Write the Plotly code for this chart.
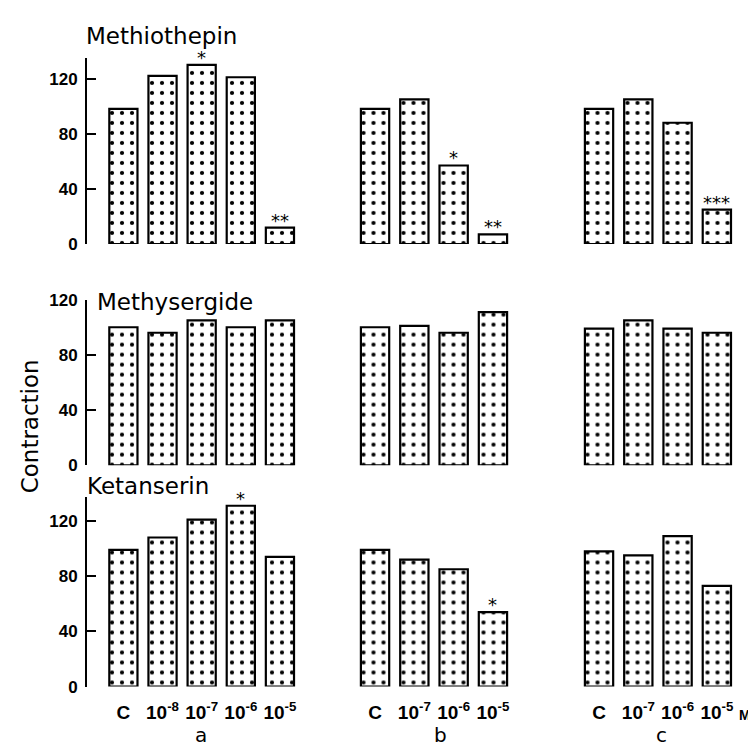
import plotly.graph_objects as go

# ---------------- data ----------------
drugs = ["Methiothepin", "Methysergide", "Ketanserin"]
groups = ["a", "b", "c"]
cats_a = ["C", "10<sup>-8</sup>", "10<sup>-7</sup>", "10<sup>-6</sup>", "10<sup>-5</sup>"]
cats_bc = ["C", "10<sup>-7</sup>", "10<sup>-6</sup>", "10<sup>-5</sup>"]

methiothepin_a = [98, 122, 130, 121, 12]
methiothepin_b = [98, 105, 57, 7]
methiothepin_c = [98, 105, 88, 25]
methysergide_a = [100, 96, 105, 100, 105]
methysergide_b = [100, 101, 96, 111]
methysergide_c = [99, 105, 99, 96]
ketanserin_a = [99, 108, 121, 131, 94]
ketanserin_b = [99, 92, 85, 54]
ketanserin_c = [98, 95, 109, 73]

# significance marks (same order as values, "" = none)
sig_methiothepin_a = ["", "", "*", "", "**"]
sig_methiothepin_b = ["", "", "*", "**"]
sig_methiothepin_c = ["", "", "", "***"]
sig_methysergide_a = ["", "", "", "", ""]
sig_methysergide_b = ["", "", "", ""]
sig_methysergide_c = ["", "", "", ""]
sig_ketanserin_a = ["", "", "", "*", ""]
sig_ketanserin_b = ["", "", "", "*"]
sig_ketanserin_c = ["", "", "", ""]

yticks = [0, 40, 80, 120]

values = [
    [methiothepin_a, methiothepin_b, methiothepin_c],
    [methysergide_a, methysergide_b, methysergide_c],
    [ketanserin_a, ketanserin_b, ketanserin_c],
]
sigs = [
    [sig_methiothepin_a, sig_methiothepin_b, sig_methiothepin_c],
    [sig_methysergide_a, sig_methysergide_b, sig_methysergide_c],
    [sig_ketanserin_a, sig_ketanserin_b, sig_ketanserin_c],
]
cats = [cats_a, cats_bc, cats_bc]

# ---------------- layout geometry (pixels) ----------------
W, H = 756, 748
col_px = [(79, 291.5), (330.5, 504.6), (554.5, 728.5)]
col_range = [(-0.93, 4.5), (-0.93, 3.5), (-0.93, 3.5)]
row_px = [(42, 233), (290, 460), (493, 687)]
row_range = [(0, 135), (0, 120), (0, 137)]
title_pos = [(76, 20), (87, 292), (77, 481)]

fig = go.Figure()
layout = dict(
    width=W, height=H,
    margin=dict(l=0, r=0, t=0, b=0),
    paper_bgcolor="white", plot_bgcolor="white",
    showlegend=False,
    font=dict(family="Liberation Sans", color="black"),
)
annotations = []

for r in range(3):
    for c in range(3):
        n = r * 3 + c + 1
        xa = "x" if n == 1 else f"x{n}"
        ya = "y" if n == 1 else f"y{n}"
        xs = list(range(len(cats[c])))
        fig.add_trace(go.Bar(
            x=xs, y=values[r][c], xaxis=xa, yaxis=ya, width=0.72,
            marker=dict(
                color="white",
                line=dict(color="black", width=2.2),
                pattern=dict(shape=".", fgcolor="black", bgcolor="white",
                             fgopacity=1, size=10, solidity=0.14),
            ),
        ))
        for i, s in enumerate(sigs[r][c]):
            if s:
                annotations.append(dict(
                    x=xs[i], y=values[r][c][i], xref=xa, yref=ya,
                    text=s, showarrow=False, yanchor="bottom", yshift=-5,
                    font=dict(size=18, family="DejaVu Sans", color="black"),
                ))
        x0, x1 = col_px[c]
        y0, y1 = row_px[r]
        xkey = "xaxis" if n == 1 else f"xaxis{n}"
        ykey = "yaxis" if n == 1 else f"yaxis{n}"
        bottom = (r == 2)
        layout[xkey] = dict(
            domain=[x0 / W, x1 / W], range=list(col_range[c]), anchor=ya,
            showgrid=False, zeroline=False, showline=False, ticks="",
            tickmode="array", tickvals=xs, ticktext=cats[c],
            showticklabels=bottom,
            tickfont=dict(size=19, family="Liberation Sans", color="black", weight="bold"),
            ticklabelstandoff=12, fixedrange=True,
        )
        ya_dict = dict(
            domain=[1 - y1 / H, 1 - y0 / H], range=list(row_range[r]), anchor=xa,
            showgrid=False, zeroline=False, fixedrange=True,
        )
        if c == 0:
            ya_dict.update(
                showline=True, linecolor="black", linewidth=2,
                ticks="inside", ticklen=9, tickwidth=2, tickcolor="black",
                tickvals=yticks, ticktext=[str(v) for v in yticks],
                tickfont=dict(size=17, family="Liberation Sans", color="black", weight="bold"),
                ticklabelstandoff=4,
            )
        else:
            ya_dict.update(visible=False)
        layout[ykey] = ya_dict

for r in range(3):
    tx, ty = title_pos[r]
    annotations.append(dict(
        x=tx / W, y=1 - ty / H, xref="paper", yref="paper",
        text=drugs[r], showarrow=False, xanchor="left", yanchor="middle",
        font=dict(size=23, family="DejaVu Sans", color="black"),
    ))

group_x = [193, 432, 653]
for g, gx in zip(groups, group_x):
    annotations.append(dict(
        x=gx / W, y=1 - 737 / H, xref="paper", yref="paper",
        text=g, showarrow=False, xanchor="center", yanchor="middle",
        font=dict(size=20, family="DejaVu Sans", color="black"),
    ))

annotations.append(dict(
    x=737 / W, y=1 - 716 / H, xref="paper", yref="paper", text="M",
    showarrow=False, xanchor="center", yanchor="middle",
    font=dict(size=14, family="Liberation Sans", color="black", weight="bold"),
))
annotations.append(dict(
    x=22 / W, y=1 - 420 / H, xref="paper", yref="paper", text="Contraction",
    showarrow=False, textangle=-90, xanchor="center", yanchor="middle",
    font=dict(size=23, family="DejaVu Sans", color="black"),
))

layout["annotations"] = annotations
fig.update_layout(**layout)
fig.write_html("out.html")
